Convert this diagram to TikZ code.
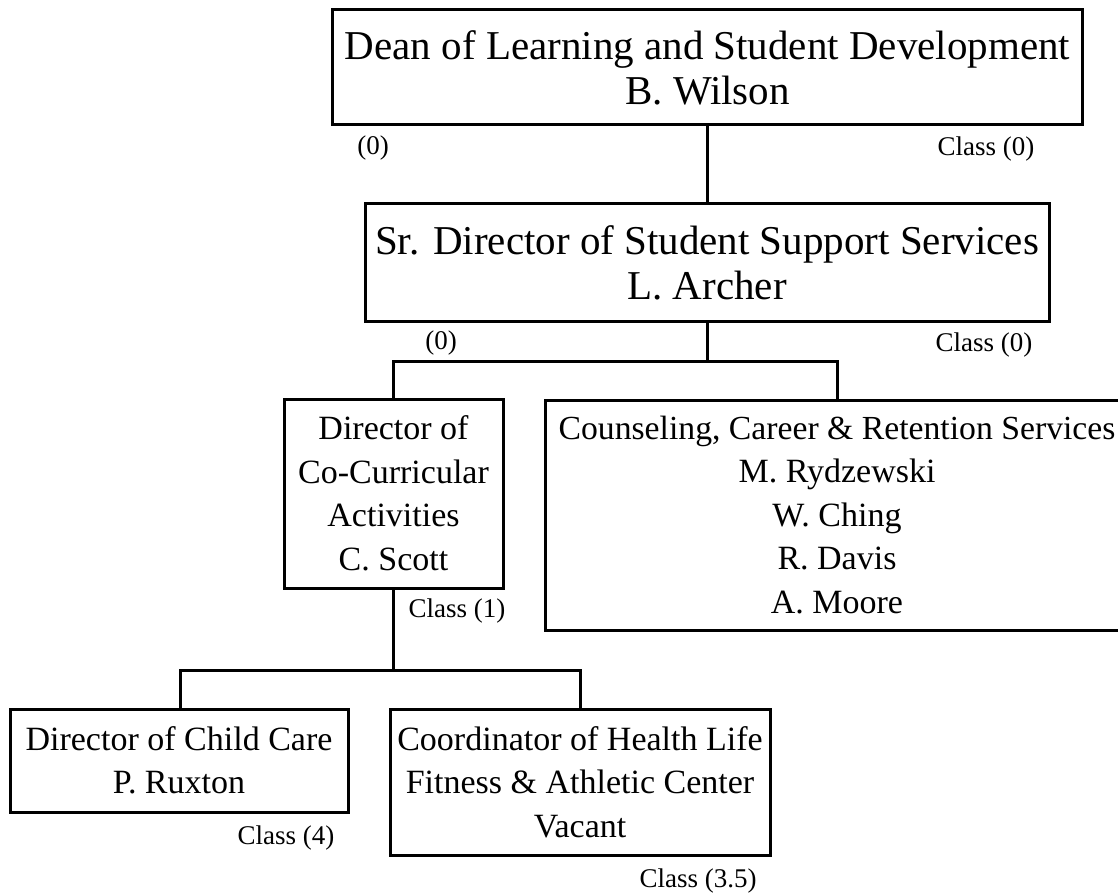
\documentclass[tikz,border=0pt]{standalone}
\usepackage{fontspec}
\setmainfont{Liberation Serif}
\begin{document}
\begin{tikzpicture}[x=1pt,y=-1pt,
  box/.style={draw,line width=3pt,rectangle,align=center,inner sep=0pt},
  big/.style={font=\fontsize{41}{45}\selectfont},
  mid/.style={font=\fontsize{34}{43.5}\selectfont},
  cls/.style={font=\fontsize{27}{30}\selectfont,inner sep=0pt},
  link/.style={line width=3pt}]
\useasboundingbox (0,0) rectangle (1118,893);
\clip (0,0) rectangle (1118,893);
\node[box,big,minimum width=750pt,minimum height=115pt] (dean) at (707.5,67.5) {Dean of Learning and Student Development\\B. Wilson};
\node[box,big,minimum width=684pt,minimum height=117pt] (sr) at (707,262.5) {Sr. Director of Student Support Services\\L. Archer};
\node[box,mid,minimum width=219pt,minimum height=189pt] (cc) at (393.5,493.5) {Director of\\Co-Curricular\\Activities\\C. Scott};
\node[box,mid,minimum width=584pt,minimum height=230pt] (couns) at (837,515) {\fontsize{33.7}{43.5}\selectfont Counseling, Career \& Retention Services\\M. Rydzewski\\W. Ching\\R. Davis\\A. Moore};
\node[box,mid,minimum width=338pt,minimum height=103pt] (child) at (179,760.5) {Director of Child Care\\P. Ruxton};
\node[box,mid,minimum width=380pt,minimum height=146pt] (fit) at (580,782) {Coordinator of Health Life\\Fitness \& Athletic Center\\Vacant};
\coordinate (j1) at (707,361);
\coordinate (j2) at (393,670);
\draw[link] (dean.south -| j1) -- (sr.north -| j1);
\draw[link] (sr.south -| j1) -- (j1);
\draw[link] (cc.north -| j2) |- (j1) -| (couns.north);
\draw[link] (cc.south -| j2) -- (j2);
\draw[link] (child.north -| 180,0) |- (j2) -| (fit.north);
\node[cls] (l1) at (373,148) {(0)};
\node[cls] (l2) at (986,149) {Class (0)};
\node[cls] (l3) at (441,343) {(0)};
\node[cls] (l4) at (984,345) {Class (0)};
\node[cls] (l5) at (457,611) {Class (1)};
\node[cls] (l6) at (286,838) {Class (4)};
\node[cls] (l7) at (698,881) {Class (3.5)};
\end{tikzpicture}
\end{document}
